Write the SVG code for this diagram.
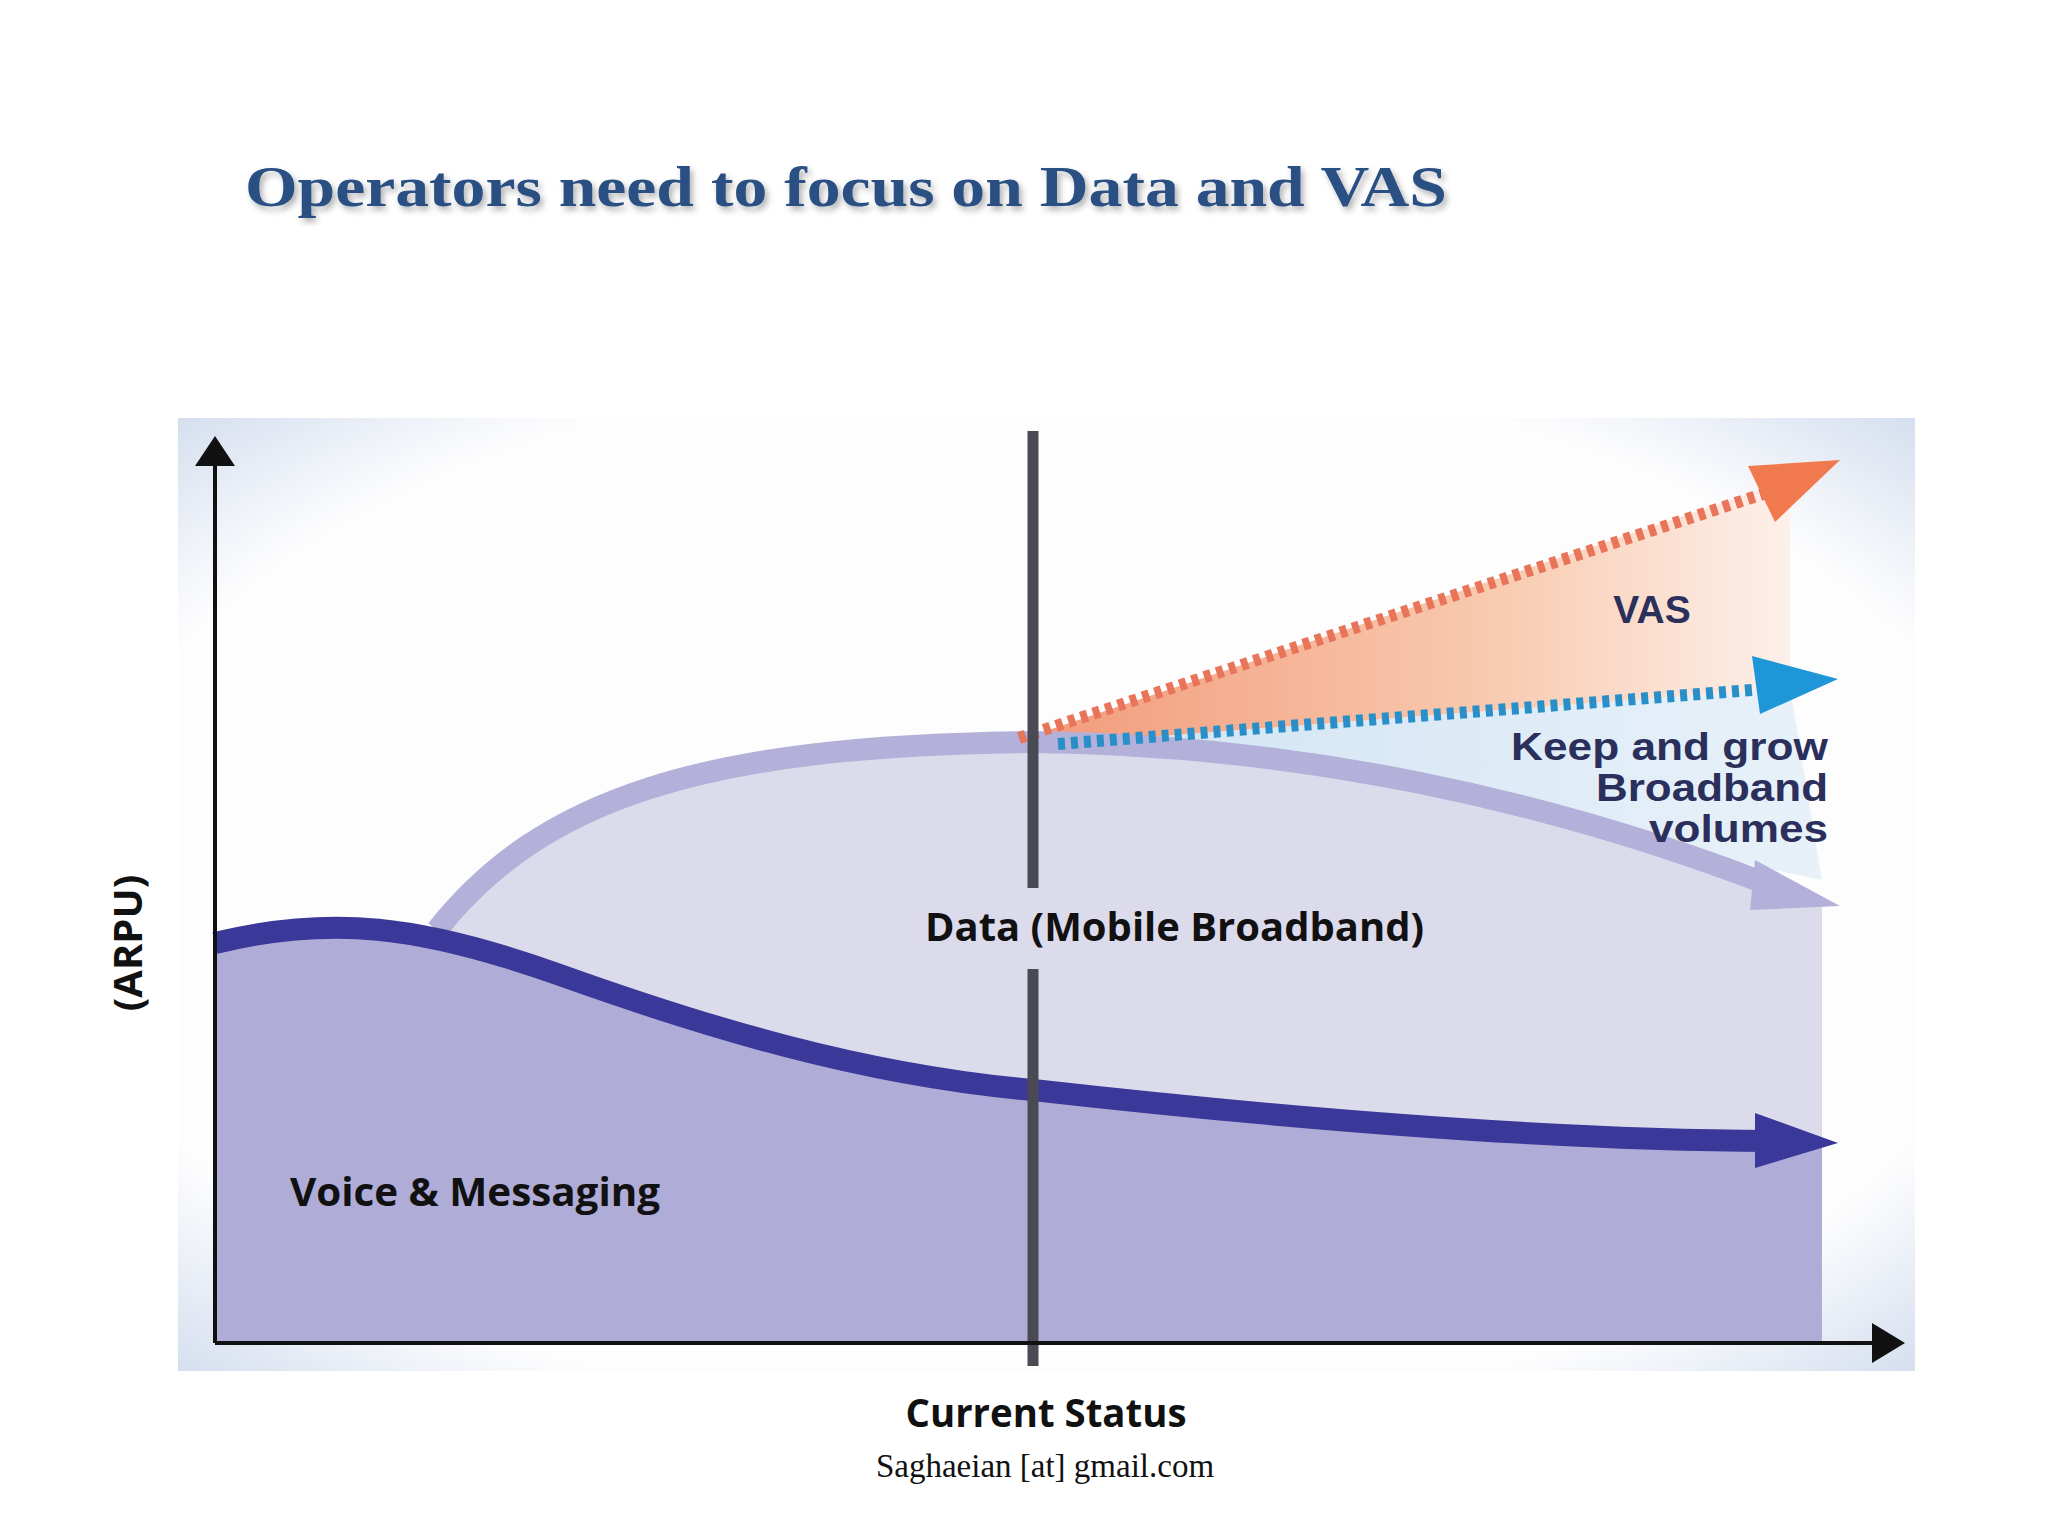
<svg xmlns="http://www.w3.org/2000/svg" width="2048" height="1536" viewBox="0 0 2048 1536">
<defs>
<radialGradient id="bg" cx="0.5" cy="0.5" r="0.75">
<stop offset="0.75" stop-color="#fdfdfe"/><stop offset="1" stop-color="#c9d6ea"/>
</radialGradient>
<linearGradient id="og" x1="0" y1="0" x2="1" y2="0">
<stop offset="0" stop-color="#f29a7a"/><stop offset="0.6" stop-color="#f8c9ae"/><stop offset="1" stop-color="#fdf0ea"/>
</linearGradient>
<linearGradient id="bl" x1="0" y1="0" x2="1" y2="0">
<stop offset="0" stop-color="#cfe3f3"/><stop offset="1" stop-color="#e8f1f9"/>
</linearGradient>
<filter id="sh"><feDropShadow dx="3" dy="4" stdDeviation="3" flood-color="#000" flood-opacity="0.3"/></filter>
</defs>
<style>
.lbl{font-family:"Open Sans","Liberation Sans",sans-serif;font-weight:bold;fill:#111}
.small{font-family:"Liberation Sans",Arial,sans-serif;font-weight:bold;fill:#2b2f5c;font-size:39px}
</style>
<rect width="2048" height="1536" fill="#fff"/>
<text x="245" y="206" font-family="Liberation Serif,serif" font-weight="bold" font-size="58" fill="#2a4f82" filter="url(#sh)" textLength="1202" lengthAdjust="spacingAndGlyphs">Operators need to focus on Data and VAS</text>
<rect x="178" y="418" width="1737" height="953" fill="url(#bg)"/>
<g id="vas-area"><polygon points="1025,738 1790,480 1790,688 1060,744" fill="url(#og)"/>
<polygon points="1060,744 1790,688 1822,880 1306,771 1033,742" fill="url(#bl)"/></g>
<g id="data">
<path d="M437,930 C540,800 700,745 1033,742 C1300,745 1550,800 1822,900 L1822,1343 L437,1343 Z" fill="#dcdbec"/>
<path d="M437,930 C540,800 700,745 1033,742 C1300,745 1550,800 1770,885" fill="none" stroke="#b3b0d9" stroke-width="22"/>
<polygon points="1755,860 1840,906 1750,910" fill="#b3b0d9"/>
</g>
<g id="voice">
<path d="M215,943 C330,915 420,925 560,975 C700,1025 860,1075 1033,1090 C1300,1120 1550,1140 1822,1140 L1822,1343 L215,1343 Z" fill="#b0acd8"/>
<path d="M215,943 C330,915 420,925 560,975 C700,1025 860,1075 1033,1090 C1300,1120 1550,1140 1770,1141" fill="none" stroke="#3a3898" stroke-width="22"/>
<polygon points="1755,1113 1838,1143 1755,1168" fill="#3a3898"/>
</g>
<g id="connectors">
<line x1="1019" y1="738" x2="1763" y2="494" stroke="#e8755a" stroke-width="12" stroke-dasharray="7,6"/>
<polygon points="1748,466 1840,460 1775,522" fill="#f07a4e"/>
<line x1="1058" y1="744" x2="1752" y2="690" stroke="#2a8fc8" stroke-width="12" stroke-dasharray="7,6"/>
<polygon points="1752,656 1838,679 1760,714" fill="#1e96d8"/>
<line x1="1033" y1="431" x2="1033" y2="888" stroke="#4a4a55" stroke-width="11"/>
<line x1="1033" y1="969" x2="1033" y2="1366" stroke="#4a4a55" stroke-width="11"/>
<line x1="215" y1="1343" x2="215" y2="460" stroke="#111" stroke-width="4"/>
<polygon points="195,466 215,436 235,466" fill="#111"/>
<line x1="215" y1="1343" x2="1875" y2="1343" stroke="#111" stroke-width="4"/>
<polygon points="1872,1323 1905,1343 1872,1363" fill="#111"/>
</g>
<text class="small" x="1652" y="623" text-anchor="middle" fill="#3a3d88">VAS</text>
<text class="small" x="1511" y="760" textLength="317" lengthAdjust="spacingAndGlyphs">Keep and grow</text>
<text class="small" x="1596" y="801" textLength="232" lengthAdjust="spacingAndGlyphs">Broadband</text>
<text class="small" x="1649" y="842" textLength="179" lengthAdjust="spacingAndGlyphs">volumes</text>
<text class="lbl" x="925" y="941" font-size="40" textLength="499" lengthAdjust="spacingAndGlyphs">Data (Mobile Broadband)</text>
<text class="lbl" x="290" y="1206" font-size="40" textLength="370" lengthAdjust="spacingAndGlyphs">Voice &amp; Messaging</text>
<text class="lbl" x="0" y="0" font-size="40" transform="translate(142,943) rotate(-90)" text-anchor="middle">(ARPU)</text>
<text class="lbl" x="1046" y="1427" font-size="40" text-anchor="middle" textLength="281" lengthAdjust="spacingAndGlyphs">Current Status</text>
<text x="1045" y="1477" font-family="Liberation Serif,serif" font-size="33" fill="#111" text-anchor="middle">Saghaeian [at] gmail.com</text>
</svg>
